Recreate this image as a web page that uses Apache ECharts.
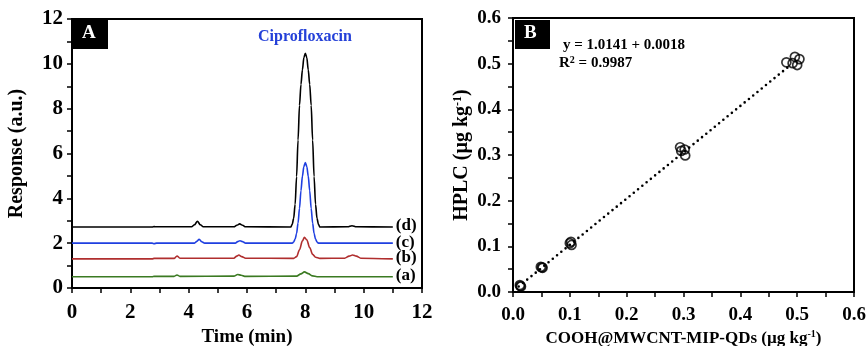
<!DOCTYPE html>
<html>
<head>
<meta charset="utf-8">
<script src="https://cdn.jsdelivr.net/npm/echarts@6/dist/echarts.min.js"></script>
<style>
  html, body { margin: 0; padding: 0; background: #fff; }
  #chart { width: 866px; height: 346px; }
</style>
</head>
<body>
<div id="chart"></div>
<script>
// Chromatogram traces: [time (min), response (a.u.)]
const traceA = [
  [0, 0.50], [2.75, 0.50], [2.82, 0.52], [3.5, 0.52], [3.6, 0.58], [3.7, 0.52],
  [5.55, 0.53], [5.68, 0.60], [5.8, 0.57], [5.92, 0.52], [7.7, 0.53], [7.85, 0.63],
  [7.97, 0.72], [8.1, 0.64], [8.25, 0.54], [8.4, 0.50], [11, 0.50]
];
const traceB = [
  [0, 1.30], [2.75, 1.30], [2.82, 1.32], [3.5, 1.32], [3.6, 1.43], [3.7, 1.33],
  [5.55, 1.33], [5.65, 1.42], [5.72, 1.47], [5.82, 1.40], [5.95, 1.33], [7.6, 1.32],
  [7.7, 1.40], [7.8, 1.70], [7.9, 2.10], [7.97, 2.26], [8.05, 2.15], [8.15, 1.80],
  [8.25, 1.50], [8.35, 1.37], [8.5, 1.32], [9.35, 1.33], [9.5, 1.42], [9.62, 1.47],
  [9.75, 1.42], [9.9, 1.33], [11, 1.30]
];
const traceC = [
  [0, 2.00], [2.75, 2.00], [2.82, 1.98], [2.9, 2.00], [4.2, 2.00],
  [4.28, 2.08], [4.36, 2.17], [4.45, 2.06], [4.55, 2.00], [5.6, 2.00], [5.68, 2.07],
  [5.76, 2.11], [5.86, 2.06], [5.95, 2.00], [7.55, 2.00], [7.6, 2.05], [7.65, 2.18],
  [7.7, 2.43], [7.75, 2.90], [7.8, 3.55], [7.85, 4.34], [7.9, 4.99], [7.95, 5.42],
  [8.0, 5.60], [8.05, 5.42], [8.1, 4.99], [8.15, 4.34], [8.2, 3.55], [8.25, 2.90],
  [8.3, 2.43], [8.35, 2.18], [8.4, 2.05], [8.45, 2.00], [11, 2.00]
];
const traceD = [
  [0, 2.72], [2.75, 2.72], [2.82, 2.74], [2.9, 2.73], [4.1, 2.73], [4.2, 2.82],
  [4.3, 2.98], [4.4, 2.82], [4.5, 2.73], [5.55, 2.73], [5.65, 2.80], [5.75, 2.86],
  [5.85, 2.80], [5.95, 2.73], [7.5, 2.72], [7.55, 2.84], [7.6, 3.11], [7.65, 3.73],
  [7.7, 4.97], [7.75, 6.60], [7.8, 8.15], [7.85, 9.08], [7.9, 9.73], [7.95, 10.28],
  [8.0, 10.47], [8.05, 10.28], [8.1, 9.73], [8.15, 9.08], [8.2, 8.15], [8.25, 6.60],
  [8.3, 4.97], [8.35, 3.73], [8.4, 3.11], [8.45, 2.84], [8.5, 2.72], [9.45, 2.73],
  [9.6, 2.78], [9.75, 2.73], [11, 2.72]
];
const traceNames = ['(a)', '(b)', '(c)', '(d)'];
const traceColors = ['#3b7a22', '#b02e2e', '#1f3fe0', '#000000'];

// Method comparison: [COOH@MWCNT-MIP-QDs, HPLC] (µg kg-1)
const comparePoints = [
  [0.012, 0.015], [0.014, 0.012], [0.013, 0.013],
  [0.049, 0.055], [0.052, 0.053], [0.051, 0.054],
  [0.100, 0.107], [0.102, 0.110], [0.103, 0.103],
  [0.294, 0.317], [0.302, 0.312], [0.303, 0.299], [0.296, 0.309],
  [0.481, 0.503], [0.496, 0.515], [0.504, 0.510], [0.492, 0.501], [0.500, 0.497]
];
const fitSlope = 1.0141;
const fitIntercept = 0.0018;
const fitRange = [0.01, 0.49];

const FONT = '"Liberation Serif", "Times New Roman", serif';
const chart = echarts.init(document.getElementById('chart'), null, { renderer: 'canvas' });

function nameStyle(size) {
  return {
    color: '#000', fontFamily: FONT, fontWeight: 'bold', fontSize: size,
    rich: { sup: { fontFamily: FONT, fontWeight: 'bold', fontSize: Math.round(size * 0.6), padding: [0, 0, 8, 0] } }
  };
}

function axisCommon(extra) {
  return Object.assign({
    axisLine: { show: true, onZero: false, lineStyle: { color: '#000', width: 2 } },
    axisTick: { show: true, inside: false, length: 5, lineStyle: { color: '#000', width: 1.5 } },
    minorTick: { show: true, splitNumber: 2, length: 5, lineStyle: { color: '#000', width: 1.5 } },
    splitLine: { show: false }
  }, extra);
}

function tickLabel(size, margin, fmt) {
  const o = { color: '#000', fontFamily: FONT, fontWeight: 'bold', fontSize: size, margin: margin };
  if (fmt) o.formatter = fmt;
  return o;
}

const lineSeries = [traceA, traceB, traceC, traceD].map((d, i) => ({
  type: 'line',
  xAxisIndex: 0,
  yAxisIndex: 0,
  data: d,
  showSymbol: false,
  smooth: 0.3,
  smoothMonotone: 'x',
  z: 2 + i,
  lineStyle: { color: traceColors[i], width: 1.6 },
  endLabel: {
    show: true,
    distance: 3,
    offset: [0, -1],
    formatter: traceNames[i],
    color: '#000',
    fontFamily: FONT,
    fontWeight: 'bold',
    fontSize: 17
  }
}));

const fitLine = fitRange.map(x => [x, fitSlope * x + fitIntercept]);

chart.setOption({
  animation: false,
  backgroundColor: '#fff',
  grid: [
    { left: 72, top: 19, width: 350, height: 269, outerBoundsMode: 'none', containLabel: false,
      show: true, borderColor: '#000', borderWidth: 2, backgroundColor: 'transparent' },
    { left: 513, top: 18, width: 341, height: 274, outerBoundsMode: 'none', containLabel: false,
      show: true, borderColor: '#000', borderWidth: 2, backgroundColor: 'transparent' }
  ],
  xAxis: [
    axisCommon({
      gridIndex: 0, type: 'value', min: 0, max: 12, interval: 2,
      name: 'Time (min)', nameLocation: 'middle', nameGap: 39,
      nameTextStyle: nameStyle(19),
      axisLabel: tickLabel(21, 14)
    }),
    axisCommon({
      gridIndex: 1, type: 'value', min: 0, max: 0.6, interval: 0.1,
      name: 'COOH@MWCNT-MIP-QDs (µg kg{sup|-1})', nameLocation: 'middle', nameGap: 31,
      nameTextStyle: nameStyle(17),
      axisLabel: tickLabel(19, 14, v => v.toFixed(1))
    })
  ],
  yAxis: [
    axisCommon({
      gridIndex: 0, type: 'value', min: 0, max: 12, interval: 2,
      name: 'Response (a.u.)', nameLocation: 'middle', nameGap: 45,
      nameTextStyle: nameStyle(20),
      axisLabel: tickLabel(21, 9)
    }),
    axisCommon({
      gridIndex: 1, type: 'value', min: 0, max: 0.6, interval: 0.1,
      name: 'HPLC (µg kg{sup|-1})', nameLocation: 'middle', nameGap: 41,
      nameTextStyle: nameStyle(20),
      axisLabel: tickLabel(19, 12, v => v.toFixed(1))
    })
  ],
  series: lineSeries.concat([
    {
      type: 'line',
      xAxisIndex: 1,
      yAxisIndex: 1,
      data: fitLine,
      showSymbol: false,
      z: 2,
      lineStyle: { color: '#000', width: 2.6, type: [0, 5.5], cap: 'round' }
    },
    {
      type: 'scatter',
      xAxisIndex: 1,
      yAxisIndex: 1,
      data: comparePoints,
      symbol: 'circle',
      symbolSize: 9,
      z: 3,
      itemStyle: { color: 'transparent', borderColor: '#000', borderWidth: 1.7 }
    }
  ]),
  graphic: [
    { type: 'rect', left: 73, top: 20, shape: { width: 35, height: 29 }, style: { fill: '#000' }, z: 10 },
    { type: 'text', left: 82, top: 24, z: 11,
      style: { text: 'A', fill: '#fff', font: 'bold 19px ' + FONT } },
    { type: 'rect', left: 515, top: 20, shape: { width: 35, height: 29 }, style: { fill: '#000' }, z: 10 },
    { type: 'text', left: 524, top: 24, z: 11,
      style: { text: 'B', fill: '#fff', font: 'bold 19px ' + FONT } },
    { type: 'text', left: 258, top: 29, z: 11,
      style: { text: 'Ciprofloxacin', fill: '#2440d8', font: 'bold 16px ' + FONT } },
    { type: 'text', left: 563, top: 38, z: 11,
      style: { text: 'y = 1.0141 + 0.0018', fill: '#000', font: 'bold 15px ' + FONT } },
    { type: 'text', left: 559, top: 55, z: 11,
      style: {
        text: 'R{sup|2} = 0.9987', fill: '#000', font: 'bold 15px ' + FONT,
        rich: { sup: { fontFamily: FONT, fontWeight: 'bold', fontSize: 10, padding: [0, 0, 7, 0], fill: '#000' } }
      } }
  ]
});
</script>
</body>
</html>
